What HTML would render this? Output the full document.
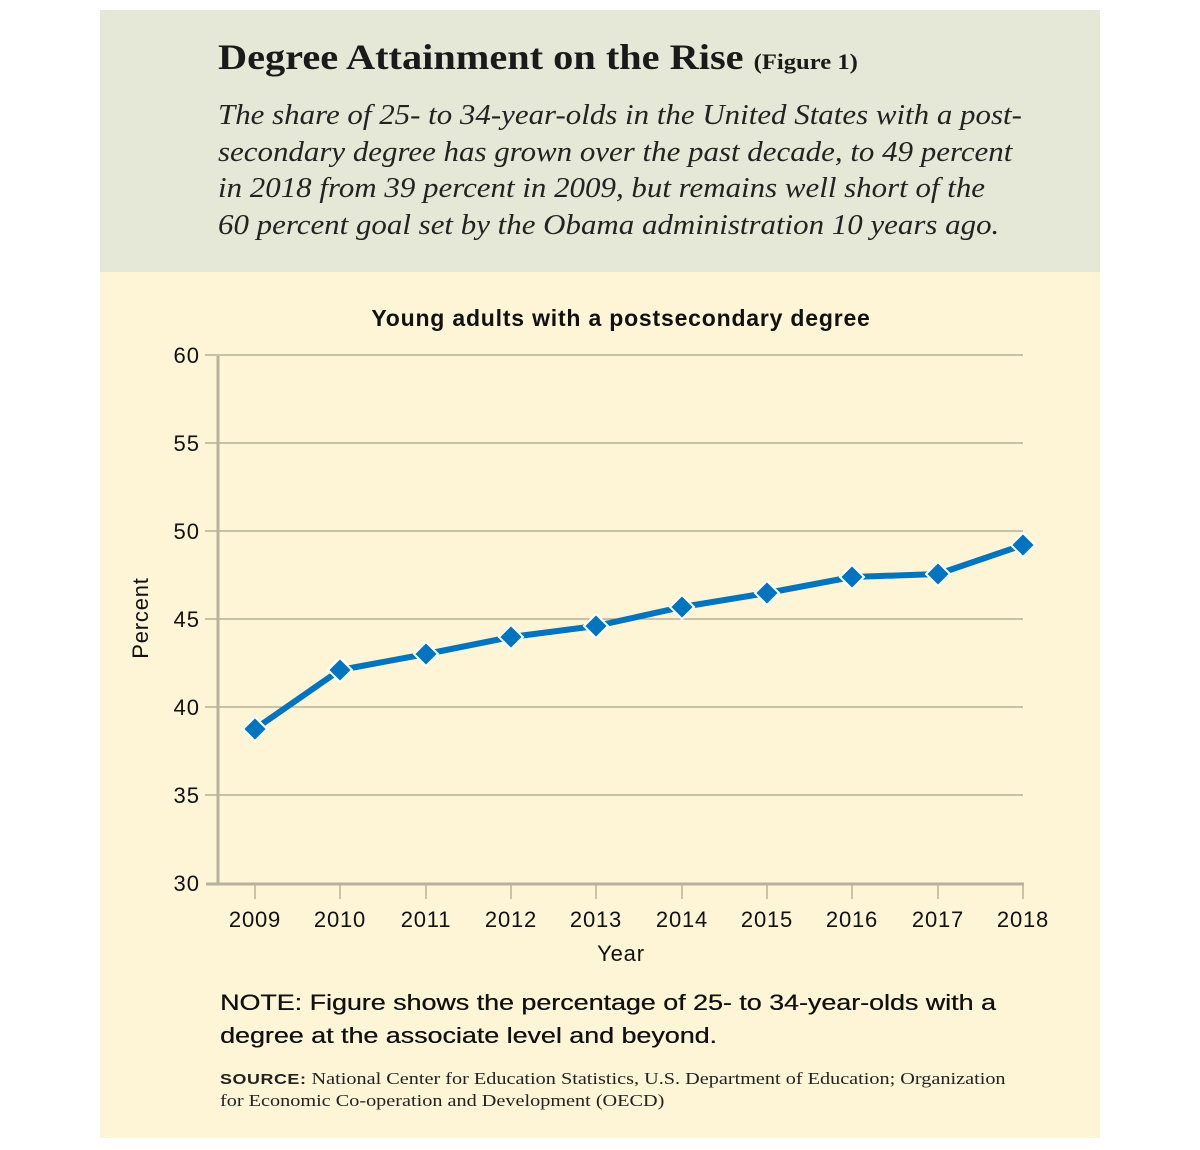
<!DOCTYPE html>
<html><head><meta charset="utf-8"><style>
body{margin:0;width:1200px;height:1150px;background:#fff;position:relative;overflow:hidden;font-family:"Liberation Sans",sans-serif}
.hdr{position:absolute;left:100px;top:10px;width:1000px;height:262px;background:#e5e8d6}
.bd{position:absolute;left:100px;top:272px;width:1000px;height:866px;background:#fdf5d6}
.t{position:absolute;left:218px;top:36px;font-family:"Liberation Serif",serif;font-weight:bold;font-size:36px;color:#1a1a1a;white-space:nowrap;transform:scaleX(1.12);transform-origin:0 0}
.t span{font-size:22px}
.sub{position:absolute;left:218px;top:98px;font-family:"Liberation Serif",serif;font-style:italic;font-size:28.5px;line-height:36.5px;color:#222;white-space:nowrap;transform:scaleX(1.085);transform-origin:0 0}
.note{position:absolute;left:220px;top:986px;font-size:22px;line-height:33px;color:#111;white-space:nowrap;transform:scaleX(1.22);transform-origin:0 0;text-shadow:0.3px 0 0 #111}
.src{position:absolute;left:220px;top:1068px;font-family:"Liberation Serif",serif;font-size:17px;line-height:21px;color:#222;white-space:nowrap;transform:scaleX(1.19);transform-origin:0 0}
.src b{font-family:"Liberation Sans",sans-serif;font-size:15px;letter-spacing:0.5px}
</style></head><body>
<div class="hdr"></div><div class="bd"></div>
<div class="t">Degree Attainment on the Rise <span>(Figure 1)</span></div>
<div class="sub">The share of 25- to 34-year-olds in the United States with a post-<br>secondary degree has grown over the past decade, to 49 percent<br>in 2018 from 39 percent in 2009, but remains well short of the<br>60 percent goal set by the Obama administration 10 years ago.</div>
<svg style="position:absolute;left:0;top:0" width="1200" height="1150" font-family="Liberation Sans, sans-serif">
<text x="621" y="326" text-anchor="middle" font-size="23" font-weight="bold" fill="#111" letter-spacing="0.8">Young adults with a postsecondary degree</text>
<g stroke="#aaa591" stroke-width="1.3">
<line x1="205" y1="355" x2="1023" y2="355"/><line x1="205" y1="443" x2="1023" y2="443"/>
<line x1="205" y1="531" x2="1023" y2="531"/><line x1="205" y1="619" x2="1023" y2="619"/>
<line x1="205" y1="707" x2="1023" y2="707"/><line x1="205" y1="795" x2="1023" y2="795"/>
</g>
<g stroke="#b8b29c" stroke-width="3"><line x1="218" y1="356" x2="218" y2="885"/><line x1="206" y1="884" x2="1024" y2="884"/></g>
<g stroke="#b8b29c" stroke-width="1.5">
<line x1="255" y1="885" x2="255" y2="899"/><line x1="340" y1="885" x2="340" y2="899"/><line x1="426" y1="885" x2="426" y2="899"/><line x1="511" y1="885" x2="511" y2="899"/><line x1="596" y1="885" x2="596" y2="899"/><line x1="682" y1="885" x2="682" y2="899"/><line x1="767" y1="885" x2="767" y2="899"/><line x1="852" y1="885" x2="852" y2="899"/><line x1="938" y1="885" x2="938" y2="899"/><line x1="1023" y1="885" x2="1023" y2="899"/>
</g>
<g font-size="22" fill="#111" text-anchor="end" letter-spacing="1">
<text x="200" y="363">60</text><text x="200" y="451">55</text><text x="200" y="539">50</text><text x="200" y="627">45</text><text x="200" y="715">40</text><text x="200" y="803">35</text><text x="200" y="891">30</text>
</g>
<g font-size="22" fill="#111" text-anchor="middle" letter-spacing="0.8">
<text x="255" y="927">2009</text><text x="340" y="927">2010</text><text x="426" y="927">2011</text><text x="511" y="927">2012</text><text x="596" y="927">2013</text><text x="682" y="927">2014</text><text x="767" y="927">2015</text><text x="852" y="927">2016</text><text x="938" y="927">2017</text><text x="1023" y="927">2018</text>
<text x="621" y="961">Year</text>
</g>
<text transform="translate(148,618) rotate(-90)" font-size="22" fill="#111" text-anchor="middle" letter-spacing="0.8">Percent</text>
<polyline fill="none" stroke="#0074bf" stroke-width="6" stroke-linejoin="round" points="255,729 340,670 426,654 511,637 596,626 682,607 767,593 852,577 938,574 1023,545"/>
<g fill="#0074bf" stroke="#fff" stroke-width="2">
<path d="M255 717l12 12-12 12-12-12z"/><path d="M340 658l12 12-12 12-12-12z"/><path d="M426 642l12 12-12 12-12-12z"/><path d="M511 625l12 12-12 12-12-12z"/><path d="M596 614l12 12-12 12-12-12z"/><path d="M682 595l12 12-12 12-12-12z"/><path d="M767 581l12 12-12 12-12-12z"/><path d="M852 565l12 12-12 12-12-12z"/><path d="M938 562l12 12-12 12-12-12z"/><path d="M1023 533l12 12-12 12-12-12z"/>
</g>
</svg>
<div class="note">NOTE: Figure shows the percentage of 25- to 34-year-olds with a<br>degree at the associate level and beyond.</div>
<div class="src"><b>SOURCE:</b> National Center for Education Statistics, U.S. Department of Education; Organization<br>for Economic Co-operation and Development (OECD)</div>
</body></html>
